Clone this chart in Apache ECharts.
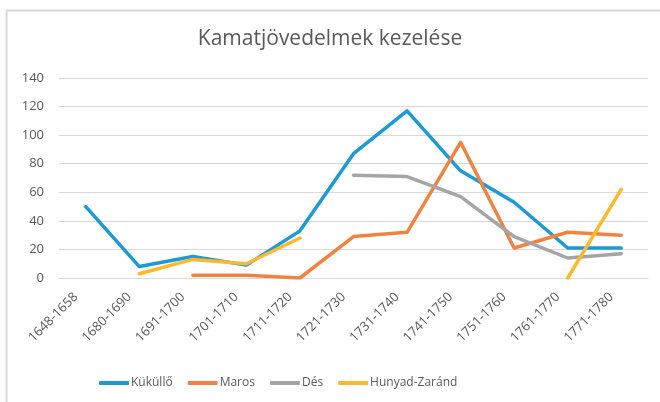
<!DOCTYPE html>
<html>
<head>
<meta charset="utf-8">
<script src="https://cdn.jsdelivr.net/npm/echarts@6/dist/echarts.min.js"></script>
<style>
  html, body { margin: 0; padding: 0; background: #ffffff; }
  #chart { width: 660px; height: 402px; }
</style>
</head>
<body>
<div id="chart"></div>
<script>
// Periods on the category axis
const periods = ['1648-1658', '1680-1690', '1691-1700', '1701-1710', '1711-1720',
  '1721-1730', '1731-1740', '1741-1750', '1751-1760', '1761-1770', '1771-1780'];

// Interest income per county (null where no record exists)
const kukullo = [50, 8, 15, 9, 33, 87, 117, 75, 53, 21, 21];
const maros = [null, null, 2, 2, 0, 29, 32, 95, 21, 32, 30];
const des = [null, null, null, null, null, 72, 71, 57, 29, 14, 17];
const hunyadZarand = [null, 3, 13, 10, 28, null, null, null, null, 0, 62];

const yTicks = { min: 0, max: 140, interval: 20 };

const seriesDefs = [
  { name: 'Küküllő', data: kukullo, color: '#1a9bd7' },
  { name: 'Maros', data: maros, color: '#f2823f' },
  { name: 'Dés', data: des, color: '#a5a5a5' },
  { name: 'Hunyad-Zaránd', data: hunyadZarand, color: '#fcb92c' }
];

const textColor = '#595959';
const fontFamily = '"Open Sans", "Noto Sans", sans-serif';

const chart = echarts.init(document.getElementById('chart'), null, { renderer: 'canvas' });

chart.setOption({
  backgroundColor: '#ffffff',
  animation: false,
  title: {
    text: 'Kamatjövedelmek kezelése',
    left: 'center',
    top: 24,
    textStyle: { color: textColor, fontSize: 21, fontWeight: 'normal', fontFamily: fontFamily }
  },
  graphic: [
    {
      type: 'polyline',
      shape: { points: [[6.5, 402], [6.5, 10.5], [660, 10.5]] },
      style: { stroke: '#d9d9d9', lineWidth: 2, fill: null },
      silent: true
    }
  ],
  grid: { left: 59, right: 12, top: 78, bottom: 124, containLabel: false },
  legend: {
    left: 94,
    top: 372,
    itemWidth: 30,
    itemHeight: 4,
    itemGap: 15,
    icon: 'roundRect',
    textStyle: { color: textColor, fontSize: 12, fontFamily: fontFamily, padding: [0, 0, 0, -3] },
    data: seriesDefs.map(s => s.name)
  },
  xAxis: {
    type: 'category',
    data: periods,
    boundaryGap: true,
    axisLine: { show: true, lineStyle: { color: '#d9d9d9', width: 1 } },
    axisTick: { show: false },
    axisLabel: {
      rotate: 45,
      interval: 0,
      margin: 7,
      color: textColor,
      fontSize: 13,
      fontFamily: fontFamily,
      padding: [0, 14, 0, 0]
    },
    splitLine: { show: false }
  },
  yAxis: {
    type: 'value',
    min: yTicks.min,
    max: yTicks.max,
    interval: yTicks.interval,
    axisLine: { show: false },
    axisTick: { show: false },
    axisLabel: { color: textColor, fontSize: 13, fontFamily: fontFamily, margin: 15 },
    splitLine: { lineStyle: { color: '#d9d9d9', width: 1 } }
  },
  series: seriesDefs.map(s => ({
    name: s.name,
    type: 'line',
    data: s.data,
    connectNulls: false,
    showSymbol: false,
    symbol: 'none',
    color: s.color,
    lineStyle: { width: 3.5, color: s.color, cap: 'round', join: 'round' },
    itemStyle: { color: s.color }
  }))
});
</script>
</body>
</html>
